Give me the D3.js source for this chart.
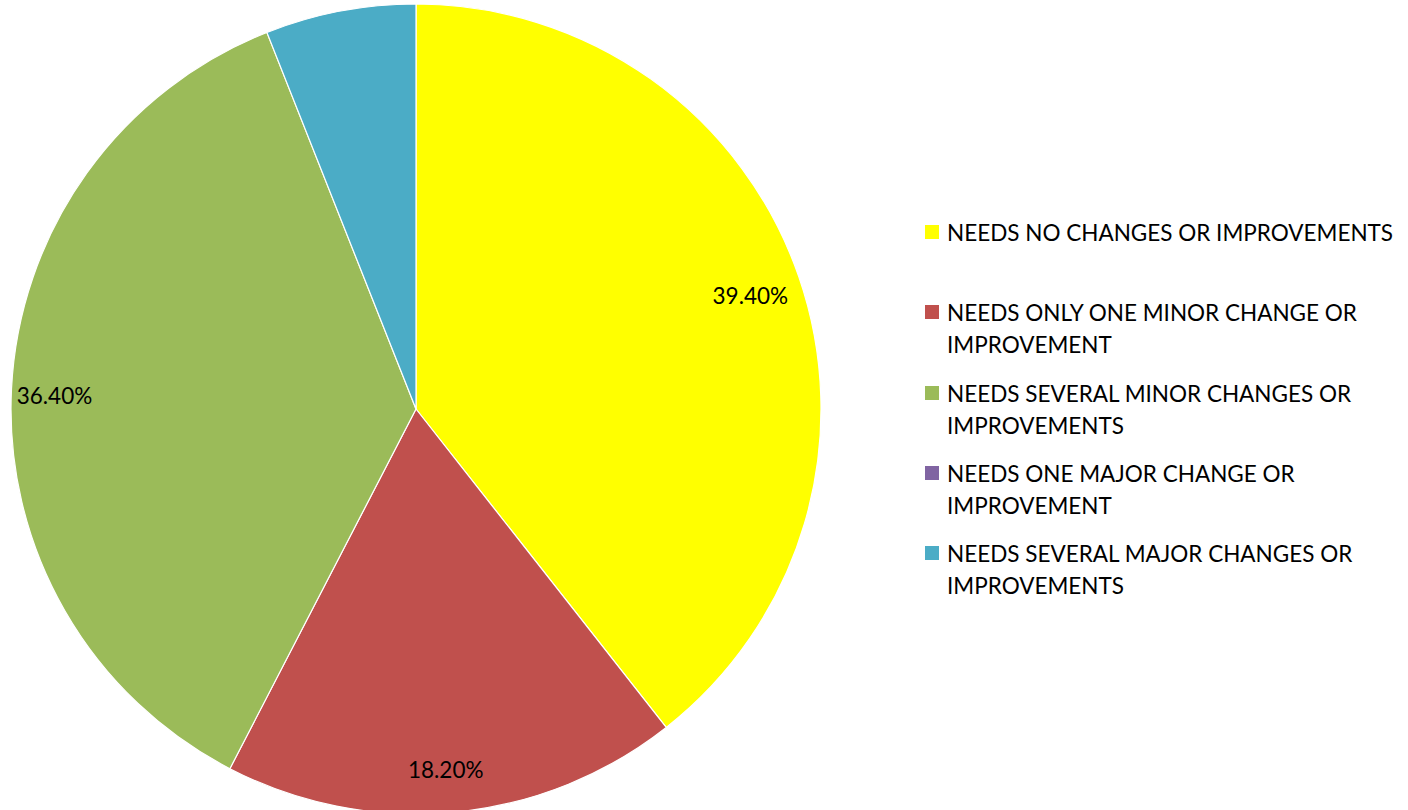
<!DOCTYPE html>
<html><head><meta charset="utf-8">
<script src="https://cdn.jsdelivr.net/npm/d3@7/dist/d3.min.js"></script>
<style>html,body{margin:0;padding:0;background:#fff;}svg{display:block;}</style>
</head><body>
<svg id="chart" width="1408" height="810"></svg>
<script>
const categories = [
  "NEEDS NO CHANGES OR IMPROVEMENTS",
  "NEEDS ONLY ONE MINOR CHANGE OR IMPROVEMENT",
  "NEEDS SEVERAL MINOR CHANGES OR IMPROVEMENTS",
  "NEEDS ONE MAJOR CHANGE OR IMPROVEMENT",
  "NEEDS SEVERAL MAJOR CHANGES OR IMPROVEMENTS"
];
const legendLines = [
  ["NEEDS NO CHANGES OR IMPROVEMENTS"],
  ["NEEDS ONLY ONE MINOR CHANGE OR", "IMPROVEMENT"],
  ["NEEDS SEVERAL MINOR CHANGES OR", "IMPROVEMENTS"],
  ["NEEDS ONE MAJOR CHANGE OR", "IMPROVEMENT"],
  ["NEEDS SEVERAL MAJOR CHANGES OR", "IMPROVEMENTS"]
];
const values = [39.4, 18.2, 36.4, 0, 6.0];
const showLabel = [true, true, true, false, false];
const colors = ["#FFFF00", "#C0504D", "#9BBB59", "#8064A2", "#4BACC6"];

const svg = d3.select("#chart");
const cx = 416, cy = 409, R = 405;
const font = "Lato, 'Open Sans', sans-serif";

const data = categories.map((c, i) => ({cat: c, value: values[i], i}));
const pie = d3.pie().sort(null).value(d => d.value);
const arcs = pie(data);
const arc = d3.arc().innerRadius(0).outerRadius(R);
const labelArc = d3.arc().innerRadius(358).outerRadius(358);
const color = d3.scaleOrdinal().domain(categories).range(colors);

const g = svg.append("g").attr("transform", `translate(${cx},${cy})`);
g.selectAll("path.slice").data(arcs.filter(a => a.data.value > 0)).join("path")
  .attr("class", "slice")
  .attr("d", arc)
  .attr("fill", d => color(d.data.cat))
  .attr("stroke", "#fff").attr("stroke-width", 1.2);

g.selectAll("text.lbl").data(arcs.filter(a => showLabel[a.data.i])).join("text")
  .attr("class", "lbl")
  .attr("x", d => labelArc.centroid(d)[0] - 4)
  .attr("y", d => labelArc.centroid(d)[1] + 4)
  .attr("text-anchor", "middle")
  .attr("dominant-baseline", "central")
  .attr("font-family", font).attr("font-size", 22.5)
  .attr("fill", "#000")
  .text(d => d3.format(".2f")(d.data.value) + "%");

// legend
const legendY = [232, 312, 393, 473, 553];
const lineH = 32;
const lg = svg.append("g");
categories.forEach((c, i) => {
  const y = legendY[i];
  lg.append("rect").attr("x", 925).attr("y", y - 7).attr("width", 14).attr("height", 14)
    .attr("fill", color(c));
  const t = lg.append("text").attr("font-family", font).attr("font-size", 22.5).attr("fill", "#000");
  legendLines[i].forEach((ln, k) => {
    t.append("tspan").attr("x", 947).attr("y", y + k * lineH).attr("dominant-baseline", "central").text(ln);
  });
});
</script>
</body></html>
